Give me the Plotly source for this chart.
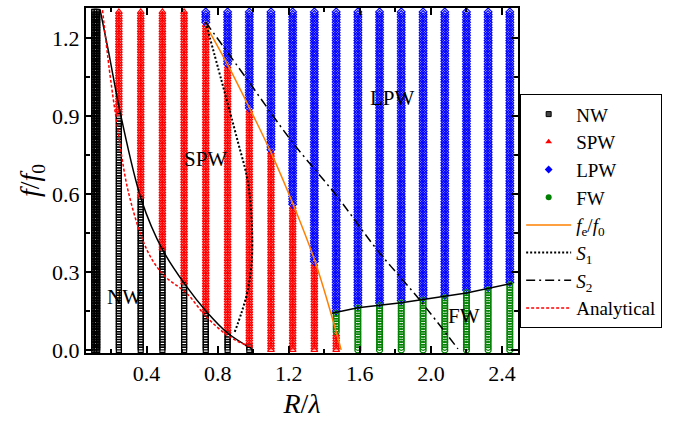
import numpy as np
import plotly.graph_objects as go

# R/lambda positions of the simulated structures (one column of points each)
r_cols = [0.105, 0.113, 0.122, 0.244, 0.367, 0.489, 0.611, 0.733, 0.856, 0.978, 1.100,
          1.222, 1.344, 1.467, 1.589, 1.711, 1.833, 1.956, 2.078, 2.200, 2.322, 2.444]
# upper f/f0 limit of each wave type in every column (-1 means the type is absent)
nw_top = [1.30, 1.30, 1.30, 0.90, 0.58, 0.38, 0.25, 0.14, 0.06, 0.01,
          -1, -1, -1, -1, -1, -1, -1, -1, -1, -1, -1, -1]
spw_top = [-1, -1, -1, 1.30, 1.30, 1.30, 1.30, 1.25, 1.09, 0.92, 0.76, 0.55, 0.33, 0.06,
           -1, -1, -1, -1, -1, -1, -1, -1]
fw_top = [-1, -1, -1, -1, -1, -1, -1, -1, -1, -1, -1, -1, -1,
          0.14, 0.16, 0.17, 0.18, 0.19, 0.20, 0.22, 0.23, 0.25]
# frequency sweep of every column
f_sweep = np.round(np.arange(0, 131) * 0.01, 2)

# boundary curves
nw_curve_r = [0.138, 0.186, 0.254, 0.372, 0.490, 0.620, 0.740, 0.856, 0.990]
nw_curve_f = [1.31, 1.146, 0.905, 0.575, 0.385, 0.248, 0.145, 0.065, 0.005]
ana_r = [0.152, 0.190, 0.231, 0.300, 0.405, 0.500, 0.625, 0.738, 0.868, 0.997]
ana_f = [1.307, 1.08, 0.88, 0.60, 0.38, 0.285, 0.218, 0.126, 0.050, 0.008]
fe_r = [0.732, 0.856, 0.980, 1.104, 1.228, 1.352, 1.495]
fe_f = [1.250, 1.097, 0.929, 0.753, 0.554, 0.332, 0.0]
s1_r = [0.732, 0.823, 0.913, 0.969, 0.992, 0.992, 0.969, 0.935, 0.896]
s1_f = [1.261, 1.032, 0.802, 0.650, 0.485, 0.344, 0.229, 0.145, 0.069]
s2_r = [0.732, 0.963, 1.217, 1.470, 1.696, 1.938, 2.152]
s2_f = [1.261, 1.043, 0.802, 0.592, 0.386, 0.191, 0.004]
fw_line_r = [1.442, 1.589, 1.833, 1.977, 2.200, 2.456]
fw_line_f = [0.141, 0.162, 0.181, 0.195, 0.219, 0.256]

FONT = "Liberation Serif"
eps = 1e-9

groups = {"NW": ([], []), "SPW": ([], []), "LPW": ([], []), "FW": ([], [])}
for r, a, b, c in zip(r_cols, nw_top, spw_top, fw_top):
    for f in f_sweep:
        if f <= a + eps:
            k = "NW"
        elif f <= b + eps:
            k = "SPW"
        elif f <= c + eps:
            k = "FW"
        else:
            k = "LPW"
        groups[k][0].append(r)
        groups[k][1].append(f)

styles = {
    "NW": dict(symbol="square-open", color="#000000", size=5),
    "SPW": dict(symbol="triangle-up-open", color="#ff0000", size=6),
    "LPW": dict(symbol="diamond-open", color="#0000ff", size=6),
    "FW": dict(symbol="circle-open", color="#008000", size=6),
}
legend_marks = {
    "NW": dict(symbol="square", color="#444444", size=5, line=dict(color="#000000", width=1)),
    "SPW": dict(symbol="triangle-up", color="#ff0000", size=6, line=dict(width=0)),
    "LPW": dict(symbol="diamond", color="#0000ff", size=6, line=dict(width=0)),
    "FW": dict(symbol="circle", color="#008000", size=6, line=dict(width=0)),
}

fig = go.Figure()
for k in ["NW", "SPW", "LPW", "FW"]:
    s = styles[k]
    fig.add_trace(go.Scatter(
        x=groups[k][0], y=groups[k][1], mode="markers", showlegend=False,
        marker=dict(symbol=s["symbol"], size=s["size"], color=s["color"],
                    line=dict(color=s["color"], width=1.2)),
        hoverinfo="skip"))

rank = 1
for k in ["NW", "SPW", "LPW", "FW"]:
    fig.add_trace(go.Scatter(x=[None], y=[None], mode="markers", name=k,
                             marker=legend_marks[k], legendrank=rank))
    rank += 1

fig.add_trace(go.Scatter(x=nw_curve_r, y=nw_curve_f, mode="lines", showlegend=False,
                         line=dict(color="black", width=1.5, shape="spline")))
fig.add_trace(go.Scatter(x=fw_line_r, y=fw_line_f, mode="lines", showlegend=False,
                         line=dict(color="black", width=1.5)))
fig.add_trace(go.Scatter(x=fe_r, y=fe_f, mode="lines", legendrank=5,
                         name="<i>f</i><sub>e</sub>/<i>f</i><sub>0</sub>",
                         line=dict(color="#ff8000", width=1.5, shape="spline")))
fig.add_trace(go.Scatter(x=s1_r, y=s1_f, mode="lines", legendrank=6,
                         name="<i>S</i><sub>1</sub>",
                         line=dict(color="black", width=2, dash="2px,2px", shape="spline")))
fig.add_trace(go.Scatter(x=s2_r, y=s2_f, mode="lines", legendrank=7,
                         name="<i>S</i><sub>2</sub>",
                         line=dict(color="black", width=1.5, dash="9px,4px,2px,4px", shape="spline")))
fig.add_trace(go.Scatter(x=ana_r, y=ana_f, mode="lines", legendrank=8,
                         name="Analytical",
                         line=dict(color="#ff0000", width=1.5, dash="3px,2px", shape="spline")))

for txt, x, y in [("NW", 0.276, 0.203), ("SPW", 0.732, 0.734),
                  ("LPW", 1.786, 0.967), ("FW", 2.186, 0.130)]:
    fig.add_annotation(x=x, y=y, text=txt, showarrow=False,
                       font=dict(family=FONT, size=21, color="black"))

axis_common = dict(showgrid=False, zeroline=False, showline=True, linecolor="black",
                   linewidth=2, mirror="ticks", ticks="inside", ticklen=7, tickwidth=1.5,
                   tickcolor="black", tickfont=dict(family=FONT, size=22, color="black"))
fig.update_xaxes(range=[0.059, 2.49], dtick=0.4, tick0=0, tickformat=".1f",
                 minor=dict(dtick=0.2, tick0=0, ticks="inside", ticklen=4, tickwidth=1.5,
                            tickcolor="black"),
                 title=dict(text="<i>R</i>/<i>λ</i>", font=dict(family=FONT, size=28, color="black"),
                            standoff=8),
                 **axis_common)
fig.update_yaxes(range=[-0.012, 1.315], dtick=0.3, tick0=0, tickformat=".1f",
                 minor=dict(dtick=0.15, tick0=0, ticks="inside", ticklen=4, tickwidth=1.5,
                            tickcolor="black"),
                 title=dict(text="<i>f</i>/<i>f</i><sub>0</sub>", font=dict(family=FONT, size=28, color="black"),
                            standoff=4),
                 **axis_common)

fig.update_layout(
    width=680, height=424,
    margin=dict(l=86, r=162, t=6, b=71),
    plot_bgcolor="white", paper_bgcolor="white",
    font=dict(family=FONT, size=20, color="black"),
    legend=dict(x=1.005, y=0.75, xanchor="left", yanchor="top",
                bordercolor="black", borderwidth=1, bgcolor="white",
                font=dict(family=FONT, size=19, color="black"),
                itemwidth=45, tracegroupgap=0),
    showlegend=True,
)

fig.write_html("out.html")
